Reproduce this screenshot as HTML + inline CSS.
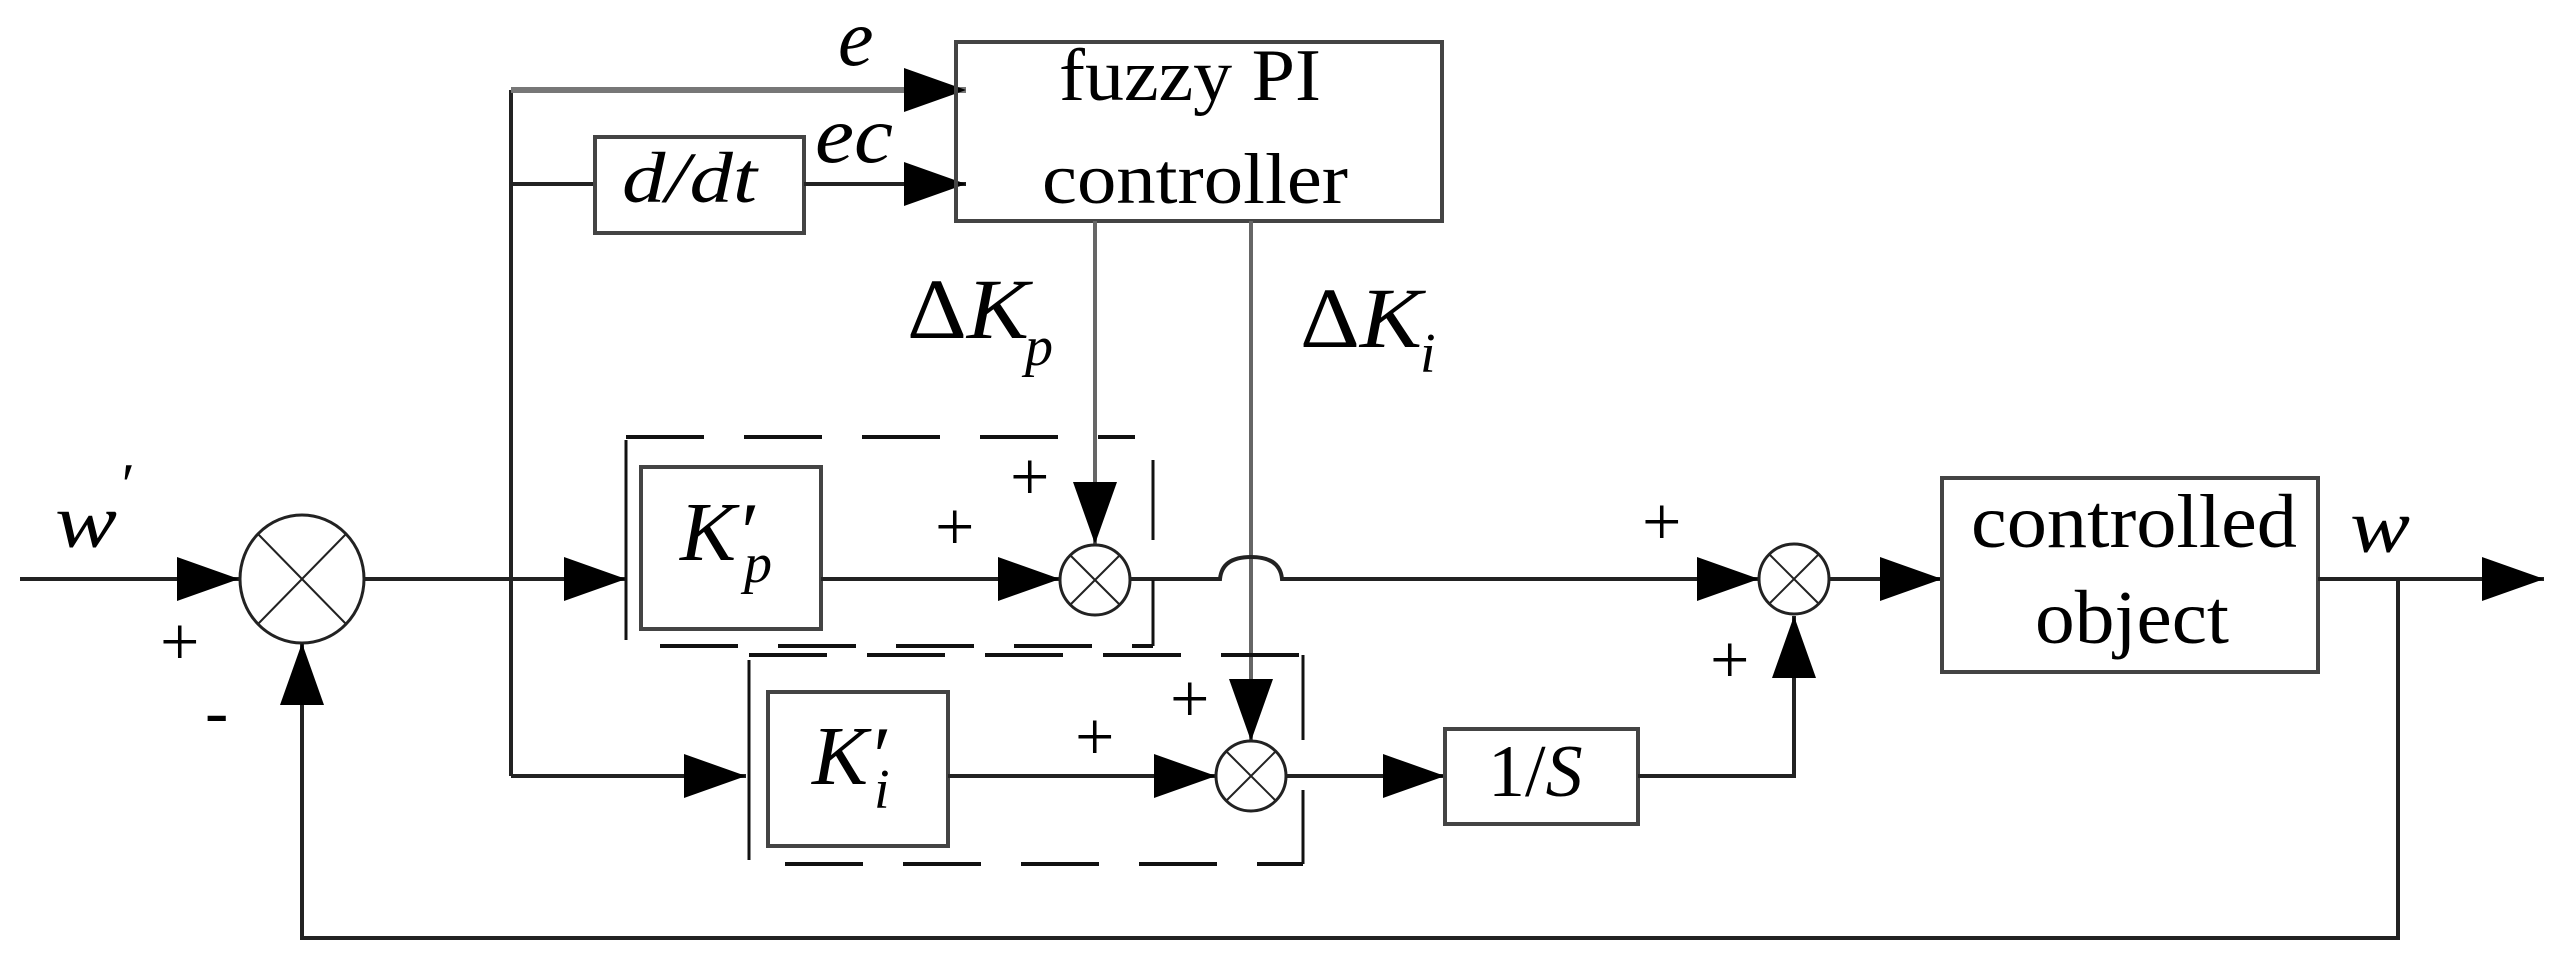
<!DOCTYPE html>
<html><head><meta charset="utf-8"><style>
html,body{margin:0;padding:0;background:#fff;}
svg{display:block;}
text{font-family:"Liberation Serif",serif;fill:#000;}
.i{font-style:italic;}
</style></head><body>
<svg width="2564" height="964" viewBox="0 0 2564 964" xmlns="http://www.w3.org/2000/svg">
<defs>
<marker id="a" markerWidth="62" markerHeight="44" refX="62" refY="22" orient="auto" markerUnits="userSpaceOnUse">
<path d="M0,0 L62,22 L0,44 Z" fill="#000"/></marker>
</defs>
<g stroke="#222" stroke-width="4" fill="none">
<line x1="20" y1="579" x2="239" y2="579" marker-end="url(#a)"/>
<ellipse cx="302" cy="579" rx="62" ry="64" stroke-width="3"/>
<line x1="258" y1="534" x2="346" y2="624" stroke-width="2"/>
<line x1="346" y1="534" x2="258" y2="624" stroke-width="2"/>
<line x1="364" y1="579" x2="626" y2="579" marker-end="url(#a)"/>
<line x1="511" y1="90" x2="511" y2="776"/>
<line x1="511" y1="90" x2="966" y2="90" stroke="#777" stroke-width="6" marker-end="url(#a)"/>
<line x1="511" y1="184" x2="595" y2="184"/>
<rect x="595" y="137" width="209" height="96" stroke="#444"/>
<line x1="804" y1="184" x2="966" y2="184" marker-end="url(#a)"/>
<rect x="956" y="42" width="486" height="179" stroke="#444"/>
<line x1="1095" y1="221" x2="1095" y2="544" stroke="#666" marker-end="url(#a)"/>
<line x1="1251" y1="221" x2="1251" y2="741" stroke="#666" marker-end="url(#a)"/>
<rect x="641" y="467" width="180" height="162" stroke="#444"/>
<line x1="821" y1="579" x2="1060" y2="579" marker-end="url(#a)"/>
<circle cx="1095" cy="580" r="35" stroke-width="3"/>
<line x1="1070" y1="555" x2="1120" y2="605" stroke-width="2"/>
<line x1="1120" y1="555" x2="1070" y2="605" stroke-width="2"/>
<path d="M1130,579 L1220,579 Q1222,557 1251,557 Q1280,557 1282,579 L1759,579" marker-end="url(#a)"/>
<circle cx="1794" cy="579" r="35" stroke-width="3"/>
<line x1="1769" y1="554" x2="1819" y2="604" stroke-width="2"/>
<line x1="1819" y1="554" x2="1769" y2="604" stroke-width="2"/>
<line x1="1829" y1="579" x2="1942" y2="579" marker-end="url(#a)"/>
<rect x="1942" y="478" width="376" height="194" stroke="#444"/>
<line x1="2318" y1="579" x2="2544" y2="579" marker-end="url(#a)"/>
<polyline points="2398,579 2398,938 302,938 302,643" marker-end="url(#a)"/>
<line x1="511" y1="776" x2="746" y2="776" marker-end="url(#a)"/>
<rect x="768" y="692" width="180" height="154" stroke="#444"/>
<line x1="948" y1="776" x2="1216" y2="776" marker-end="url(#a)"/>
<circle cx="1251" cy="776" r="35" stroke-width="3"/>
<line x1="1226" y1="751" x2="1276" y2="801" stroke-width="2"/>
<line x1="1276" y1="751" x2="1226" y2="801" stroke-width="2"/>
<line x1="1286" y1="776" x2="1445" y2="776" marker-end="url(#a)"/>
<rect x="1445" y="729" width="193" height="95" stroke="#444"/>
<polyline points="1638,776 1794,776 1794,616" marker-end="url(#a)"/>
<g stroke="#111" stroke-width="4" stroke-dasharray="78,40">
<line x1="626" y1="437" x2="1135" y2="437"/>
<line x1="660" y1="646" x2="1153" y2="646"/>
<line x1="749" y1="655" x2="1303" y2="655"/>
<line x1="785" y1="864" x2="1303" y2="864"/>
</g>
<g stroke="#111" stroke-width="3">
<line x1="626" y1="440" x2="626" y2="640"/>
<line x1="1153" y1="460" x2="1153" y2="540"/>
<line x1="1153" y1="580" x2="1153" y2="646"/>
<line x1="749" y1="660" x2="749" y2="860"/>
<line x1="1303" y1="655" x2="1303" y2="740"/>
<line x1="1303" y1="790" x2="1303" y2="864"/>
</g>
</g>
<text x="1059" y="100" font-size="74" textLength="262" lengthAdjust="spacingAndGlyphs">fuzzy PI</text>
<text x="1042" y="203" font-size="72" textLength="306" lengthAdjust="spacingAndGlyphs">controller</text>
<text class="i" x="838" y="65" font-size="80">e</text>
<text class="i" x="815" y="162" font-size="80" textLength="78" lengthAdjust="spacingAndGlyphs">ec</text>
<text class="i" x="622" y="202" font-size="72" textLength="135" lengthAdjust="spacingAndGlyphs">d/dt</text>
<text x="907" y="338" font-size="86" textLength="122" lengthAdjust="spacingAndGlyphs">Δ<tspan class="i">K</tspan></text>
<text class="i" x="1025" y="365" font-size="56">p</text>
<text x="1300" y="347" font-size="86" textLength="122" lengthAdjust="spacingAndGlyphs">Δ<tspan class="i">K</tspan></text>
<text class="i" x="1420" y="372" font-size="56">i</text>
<text class="i" x="55" y="547" font-size="76" textLength="62" lengthAdjust="spacingAndGlyphs">w</text>
<text class="i" x="118" y="505" font-size="60">′</text>
<text x="160" y="665" font-size="70">+</text>
<text x="205" y="735" font-size="70">-</text>
<text class="i" x="680" y="560" font-size="84">K′</text>
<text class="i" x="744" y="582" font-size="56">p</text>
<text x="935" y="550" font-size="70">+</text>
<text x="1010" y="500" font-size="70">+</text>
<text x="1642" y="545" font-size="70">+</text>
<text x="1710" y="683" font-size="70">+</text>
<text x="1971" y="547" font-size="76" textLength="326" lengthAdjust="spacingAndGlyphs">controlled</text>
<text x="2035" y="643" font-size="76" textLength="194" lengthAdjust="spacingAndGlyphs">object</text>
<text class="i" x="2350" y="552" font-size="76" textLength="60" lengthAdjust="spacingAndGlyphs">w</text>
<text class="i" x="812" y="784" font-size="84">K′</text>
<text class="i" x="874" y="808" font-size="56">i</text>
<text x="1075" y="760" font-size="70">+</text>
<text x="1170" y="722" font-size="70">+</text>
<text x="1488" y="796" font-size="74">1/<tspan class="i">S</tspan></text>
</svg>
</body></html>
